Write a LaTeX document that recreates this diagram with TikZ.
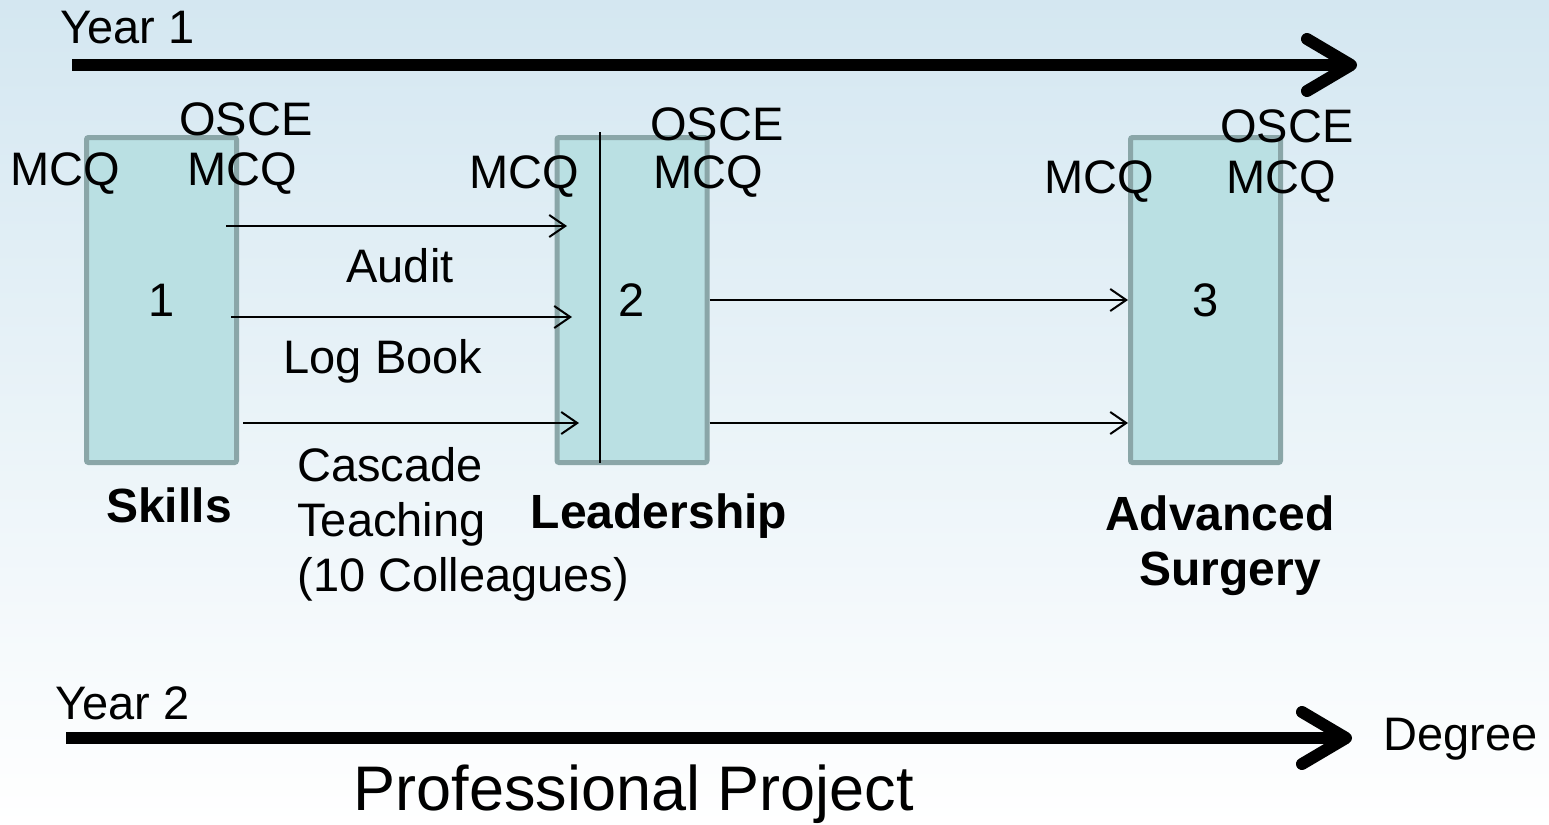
\documentclass[tikz,border=0pt]{standalone}
\usepackage{fontspec}
\setmainfont{Liberation Sans}
\usepackage{xcolor}
\definecolor{bgtop}{RGB}{212,231,241}
\definecolor{boxfill}{RGB}{186,224,227}
\definecolor{boxline}{RGB}{138,166,168}
\usepackage{tikz}
\usetikzlibrary{arrows.meta}
\newcommand{\txtsize}{\fontsize{23.5}{27.5}\selectfont}
\newcommand{\bigsize}{\fontsize{31.5}{36}\selectfont}
\tikzset{
    lbl/.style={inner sep=0pt, font=\txtsize},
    title/.style={lbl, font=\fontsize{24}{27.5}\selectfont\bfseries},
    stage/.style={draw=boxline, fill=boxfill, line width=2.5pt, rounded corners=1pt,
        minimum width=75pt, minimum height=162.5pt, inner sep=0pt, font=\txtsize},
    flow/.style={-{Straight Barb[length=8pt,width=11pt]}, line width=1pt},
    timeline/.style={-{Straight Barb[length=22pt,width=26pt,round]}, line width=6pt}
}

\begin{document}
\begin{tikzpicture}[x=0.5pt,y=-0.5pt]
              \shade[top color=bgtop, bottom color=white] (0,0) rectangle (1549,825);
              \useasboundingbox (0,0) rectangle (1549,825);

              % the three stages
              \node[stage] (s1) at (161.5,300) {1};
              \node[stage] (s2) at (632,300) {2};
              \node[stage] (s3) at (1205.5,300) {3};
              \draw[line width=1pt] ([xshift=-16pt,yshift=1.5pt]s2.north) -- ([xshift=-16pt,yshift=1pt]s2.south);

              \node[lbl, anchor=base] (m1l) at (65,185) {MCQ};
              \node[lbl, anchor=base] (o1) at (246,135) {OSCE};
              \node[lbl, anchor=base] (m1r) at (242,185) {MCQ};
              \node[lbl, anchor=base] (m2l) at (524,188) {MCQ};
              \node[lbl, anchor=base] (o2) at (717,140) {OSCE};
              \node[lbl, anchor=base] (m2r) at (708,188) {MCQ};
              \node[lbl, anchor=base] (m3l) at (1099,193) {MCQ};
              \node[lbl, anchor=base] (o3) at (1287,142) {OSCE};
              \node[lbl, anchor=base] (m3r) at (1281,193) {MCQ};

              \draw[flow] ([xshift=-6.5pt,yshift=37pt]s1.east) -- ([xshift=6.25pt,yshift=37pt]s2.west);
              \draw[flow] ([xshift=-4pt,yshift=-8.5pt]s1.east) -- ([xshift=8.75pt,yshift=-8.5pt]s2.west);
              \draw[flow] ([xshift=2pt,yshift=-61.5pt]s1.east) -- ([xshift=12.25pt,yshift=-61.5pt]s2.west);
              \draw[flow] (s2.east) -- (s3.west);
              \draw[flow] ([yshift=-61.5pt]s2.east) -- ([yshift=-61.5pt]s3.west);

              \node[lbl, anchor=base] (audit) at (400,282) {Audit};
              \node[lbl, anchor=base] (logbook) at (383,373) {Log Book};
              \node[lbl, anchor=north west, align=left] (cascade) at (297,447) {Cascade\\Teaching\\(10 Colleagues)};

              \node[title, anchor=base] (skills) at (169,522) {Skills};
              \node[title, anchor=base] (leader) at (659,528) {Leadership};
              \node[title, anchor=north, align=center] (advsurg) at (1220,495) {Advanced\\\hspace*{10pt}Surgery};

              % time lines
              \coordinate (y1a) at (72,65);
              \coordinate (y1b) at (1357,65);
              \draw[timeline] (y1a) -- (y1b);
              \node[lbl, anchor=base west] (year1) at (60,43) {Year 1};

              \coordinate (y2a) at (66,738);
              \coordinate (y2b) at (1352,738);
              \draw[timeline] (y2a) -- (y2b);
              \node[lbl, anchor=base west] (year2) at (55,719) {Year 2};
              \node[lbl, anchor=base west] (degree) at (1383,750) {Degree};
              \node[lbl, anchor=base, font=\bigsize] (project) at (634,810) {Professional Project};
          \end{tikzpicture}
\end{document}
